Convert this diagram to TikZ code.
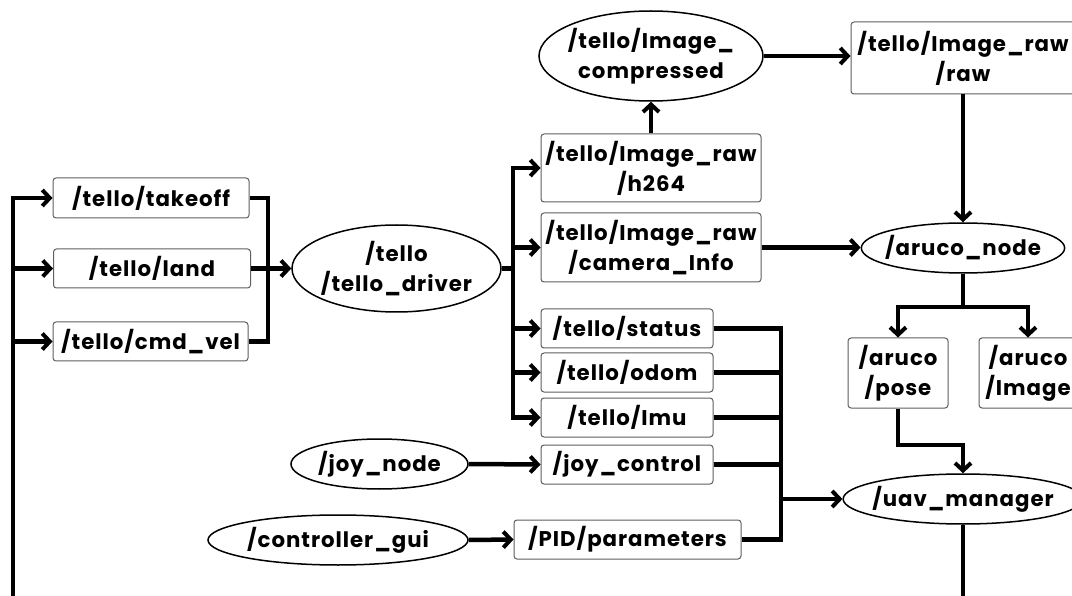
\documentclass[tikz,border=0pt]{standalone}
\usepackage{fontspec}
\setmainfont{Poppins}[LetterSpace=4.5]
\usepackage{tikz}
\usetikzlibrary{shapes.geometric, arrows.meta, positioning, calc}
\definecolor{boxgray}{RGB}{95,95,95}

\begin{document}
\begin{tikzpicture}[x=1pt, y=-1pt,
    font=\fontsize{21.3}{30}\selectfont\bfseries,
    topic/.style={rectangle, rounded corners=3pt, draw=boxgray, line width=1pt, fill=white, inner sep=0pt, align=center},
    rosnode/.style={ellipse, draw=black, line width=1.5pt, fill=white, inner sep=0pt, align=center},
    wire/.style={line width=4.5pt},
    arr/.style={wire, -{Straight Barb[length=7.5pt, width=16pt, line width=4pt]}}]
    \useasboundingbox (0,0) rectangle (1072,596);
    \clip (0,0) rectangle (1072,596);
    \fill[white] (0,0) rectangle (1072,596);

    % command topics
    \node[topic, minimum width=196pt, minimum height=40pt] (takeoff) at (151,198) {/tello/takeoff};
    \node[topic, minimum width=197pt, minimum height=39pt] (land) at (152,268.5) {/tello/land};
    \node[topic, minimum width=195pt, minimum height=39pt] (cmdvel) at (150.5,341.5) {/tello/cmd\_vel};
    \node[rosnode, minimum width=209pt, minimum height=87pt, inner xsep=-6pt] (driver) at (396.5,268.5) {/tello\\/tello\_driver};

    % driver outputs
    \node[topic, minimum width=220pt, minimum height=68pt] (h264) at (651,168) {/tello/Image\_raw\\/h264};
    \node[topic, minimum width=220pt, minimum height=69pt] (caminfo) at (651,247.5) {/tello/Image\_raw\\/camera\_Info};
    \node[topic, minimum width=172pt, minimum height=39pt] (status) at (627,328.5) {/tello/status};
    \node[topic, minimum width=172pt, minimum height=39pt] (odom) at (627,372.5) {/tello/odom};
    \node[topic, minimum width=172pt, minimum height=39pt] (imu) at (627,417.5) {/tello/Imu};
    \node[topic, minimum width=172pt, minimum height=39pt] (joyctl) at (627,464.5) {/joy\_control};
    \node[topic, minimum width=227pt, minimum height=39pt] (pid) at (627.5,539.5) {/PID/parameters};
    \node[rosnode, minimum width=177pt, minimum height=50pt, inner xsep=-6pt] (joynode) at (379.5,464) {/joy\_node};
    \node[rosnode, minimum width=260pt, minimum height=50pt, inner xsep=-6pt] (gui) at (338,540) {/controller\_gui};

    % image pipeline
    \node[rosnode, minimum width=224pt, minimum height=90pt, inner xsep=-10pt] (compressed) at (651,56) {/tello/Image\_\\compressed};
    \node[topic, minimum width=224pt, minimum height=72pt] (raw) at (963,58) {/tello/Image\_raw\\/raw};
    \node[rosnode, minimum width=203pt, minimum height=50pt, inner xsep=-6pt] (aruco) at (963,248) {/aruco\_node};
    \node[topic, minimum width=100pt, minimum height=70pt] (pose) at (898,373) {/aruco\\/pose};
    \node[topic, minimum width=98pt, minimum height=70pt] (arimg) at (1028,373) {/aruco\\/Image};
    \node[rosnode, minimum width=228pt, minimum height=50pt, inner xsep=-6pt] (uav) at (963,499) {/uav\_manager};

    \coordinate (busx) at (13,0);
    \coordinate (jL) at (268,268.5);
    \coordinate (jD) at (513,268.5);
    \coordinate (jA) at (963,307);
    \coordinate (jP) at (963,445);
    \coordinate (jM) at (781,499);

    % feedback to the commands
    \draw[arr] (uav.south) |- (13,599) |- (takeoff.west);
    \draw[arr] (busx |- land) -- (land.west);
    \draw[arr] (busx |- cmdvel) -- (cmdvel.west);

    \draw[wire] (takeoff.east) -| (jL) |- (cmdvel.east);
    \draw[arr] (land.east) -- (driver.west);

    \draw[wire] (driver.east) -- (jD);
    \foreach \t in {h264, caminfo, status, odom, imu}
      \draw[arr] (jD) |- (\t.west);

    \draw[arr] (h264.north) -- (h264.north |- compressed.south);
    \draw[arr] (compressed.east) -- (compressed.east -| raw.west);
    \draw[arr] (raw.south) -- (aruco.north);
    \draw[arr] (caminfo.east) -- (caminfo.east -| aruco.west);

    \draw[wire] (aruco.south) -- (jA);
    \draw[arr] (jA) -| (pose.north);
    \draw[arr] (jA) -| (arimg.north);
    \draw[arr] (pose.south) |- (jP) -- (uav.north);

    \draw[arr] (joynode.east) -- (joyctl.west);
    \draw[arr] (gui.east) -- (pid.west);

    \draw[wire] (status.east) -| (jM);
    \draw[wire] (pid.east) -| (jM);
    \foreach \t in {odom, imu, joyctl}
      \draw[wire] (\t.east) -- (\t.east -| jM);
    \draw[arr] (jM) -- (uav.west);
\end{tikzpicture}
\end{document}
